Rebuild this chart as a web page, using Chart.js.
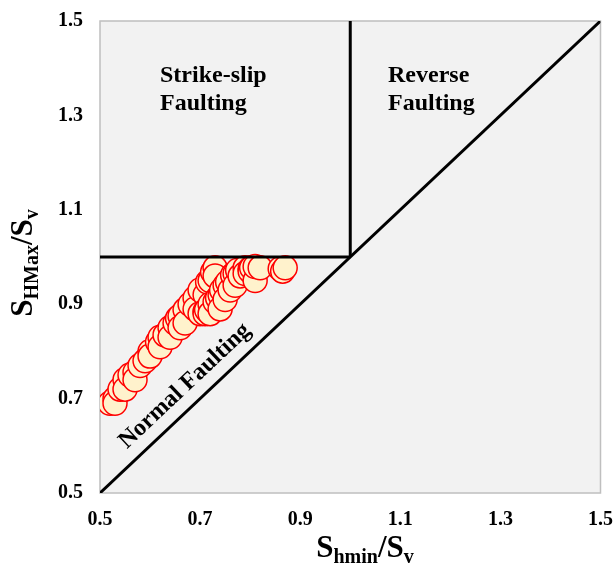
<!DOCTYPE html>
<html>
<head>
<meta charset="utf-8">
<script src="https://cdn.jsdelivr.net/npm/chart.js@4"></script>
<style>
  html, body { margin: 0; padding: 0; background: #fff; overflow: hidden; }
  #wrap { width: 614px; height: 564px; }
  canvas { display: block; }
</style>
</head>
<body>
<div id="wrap"><canvas id="stress-chart"></canvas></div>
<script>
// stress ratio readings
var shminRatio = [0.52, 0.53, 0.53, 0.54, 0.55, 0.55, 0.56, 0.57, 0.57, 0.58, 0.59, 0.60, 0.60, 0.615, 0.62, 0.62, 0.63, 0.64, 0.64, 0.65, 0.655, 0.66, 0.66, 0.67, 0.67, 0.68, 0.69, 0.69, 0.70, 0.71, 0.715, 0.72, 0.725, 0.73, 0.73,
                  0.70, 0.71, 0.71, 0.713, 0.72, 0.72, 0.73, 0.735, 0.74, 0.74, 0.743, 0.75, 0.75, 0.755, 0.76, 0.765, 0.77, 0.77, 0.775, 0.78, 0.79, 0.79, 0.80, 0.80, 0.803, 0.81, 0.81, 0.82, 0.86, 0.865, 0.87]
var shmaxRatio = [0.69, 0.70, 0.69, 0.72, 0.74, 0.72, 0.75, 0.756, 0.74, 0.77, 0.78, 0.80, 0.79, 0.82, 0.83, 0.81, 0.835, 0.85, 0.83, 0.86, 0.87, 0.875, 0.85, 0.888, 0.86, 0.90, 0.913, 0.89, 0.93, 0.92, 0.947, 0.95, 0.968, 0.977, 0.96,
                  0.88, 0.885, 0.88, 0.888, 0.90, 0.88, 0.905, 0.913, 0.92, 0.89, 0.93, 0.94, 0.91, 0.947, 0.93, 0.962, 0.965, 0.94, 0.972, 0.96, 0.977, 0.965, 0.975, 0.97, 0.977, 0.95, 0.98, 0.977, 0.975, 0.97, 0.977]

// regime boundaries
var diagonalX = [0.5, 1.5]
var diagonalY = [0.5, 1.5]
var verticalX = [1.0, 1.0]
var verticalY = [1.0, 1.5]
var horizontalX = [0.5, 1.0]
var horizontalY = [1.0, 1.0]

var tickValues = [0.5, 0.7, 0.9, 1.1, 1.3, 1.5]

function toPoints(xs, ys) {
    return xs.map(function(x, i) { return { x: x, y: ys[i] } })
}

var serif = "'Liberation Serif', 'Times New Roman', serif"

var lineOptions = {
    showLine: true,
    borderColor: '#000',
    borderWidth: 3,
    pointRadius: 0,
    fill: false,
    order: 0
}

// grey plot area + labels
var decorations = {
    id: 'decorations',
    beforeDraw: function(chart) {
        var ctx = chart.ctx, a = chart.chartArea
        ctx.save()
        ctx.fillStyle = '#f2f2f2'
        ctx.fillRect(a.left, a.top, a.right - a.left, a.bottom - a.top)
        ctx.strokeStyle = '#bfbfbf'
        ctx.lineWidth = 1.5
        ctx.strokeRect(a.left, a.top, a.right - a.left, a.bottom - a.top)
        ctx.restore()
    },
    afterDraw: function(chart) {
        var ctx = chart.ctx
        var xs = chart.scales.x, ys = chart.scales.y
        ctx.save()
        ctx.fillStyle = '#000'
        ctx.font = 'bold 24px ' + serif
        ctx.textAlign = 'left'
        ctx.textBaseline = 'alphabetic'
        ctx.fillText('Strike-slip', 160, 82)
        ctx.fillText('Faulting', 160, 110)
        ctx.fillText('Reverse', 388, 82)
        ctx.fillText('Faulting', 388, 110)

        // rotated label along the diagonal
        var p0x = xs.getPixelForValue(0.5), p0y = ys.getPixelForValue(0.5)
        var p1x = xs.getPixelForValue(1.5), p1y = ys.getPixelForValue(1.5)
        var ang = Math.atan2(p1y - p0y, p1x - p0x)
        ctx.translate(185, 386)
        ctx.rotate(ang)
        ctx.textAlign = 'center'
        ctx.textBaseline = 'middle'
        ctx.fillText('Normal Faulting', 0, 0)
        ctx.restore()

        // axis titles with subscripts
        drawSub(ctx, [['S', 31, 0], ['hmin', 20, 6], ['/S', 31, 0], ['v', 20, 6]], 365, 548, 0)
        drawSub(ctx, [['S', 31, 0], ['HMax', 20, 6], ['/S', 31, 0], ['v', 20, 6]], 23, 263, -Math.PI / 2)
    }
}

function drawSub(ctx, parts, cx, cy, rot) {
    ctx.save()
    ctx.translate(cx, cy)
    ctx.rotate(rot)
    ctx.fillStyle = '#000'
    ctx.textBaseline = 'alphabetic'
    ctx.textAlign = 'left'
    var total = 0
    parts.forEach(function(p) {
        ctx.font = 'bold ' + p[1] + 'px ' + serif
        total += ctx.measureText(p[0]).width
    })
    var x = -total / 2
    parts.forEach(function(p) {
        ctx.font = 'bold ' + p[1] + 'px ' + serif
        ctx.fillText(p[0], x, 9 + p[2])
        x += ctx.measureText(p[0]).width
    })
    ctx.restore()
}

var stressChart = document.getElementById('stress-chart').getContext('2d')

new Chart(
    stressChart,
    {
        type: 'scatter',
        data: {
            datasets: [
                {
                    label: 'Diagonal',
                    data: toPoints(diagonalX, diagonalY),
                    ...lineOptions
                },
                {
                    label: 'Vertical',
                    data: toPoints(verticalX, verticalY),
                    ...lineOptions
                },
                {
                    label: 'Horizontal',
                    data: toPoints(horizontalX, horizontalY),
                    ...lineOptions
                },
                {
                    label: 'Stress ratio',
                    data: toPoints(shminRatio, shmaxRatio),
                    pointRadius: 12,
                    pointBackgroundColor: '#fff2cc',
                    pointBorderColor: '#ff0000',
                    pointBorderWidth: 1.5,
                    order: 1
                }
            ]
        },
        options: {
            responsive: true,
            maintainAspectRatio: false,
            animation: false,
            layout: {
                padding: { top: 21, right: 12, left: 0, bottom: 0 }
            },
            plugins: {
                legend: { display: false },
                tooltip: { enabled: false }
            },
            scales: {
                x: {
                    type: 'linear',
                    min: 0.5,
                    max: 1.5,
                    grid: { display: false, drawTicks: false },
                    border: { display: false },
                    afterBuildTicks: function(scale) {
                        scale.ticks = tickValues.map(function(v) { return { value: v } })
                    },
                    afterFit: function(scale) {
                        scale.height = 71
                        scale.paddingLeft = 0
                        scale.paddingRight = 0
                    },
                    ticks: {
                        padding: 15,
                        maxRotation: 0,
                        color: '#000',
                        font: { family: serif, size: 20, weight: 'bold' },
                        callback: function(value) { return value.toFixed(1) }
                    }
                },
                y: {
                    type: 'linear',
                    min: 0.5,
                    max: 1.5,
                    grid: { display: false, drawTicks: false },
                    border: { display: false },
                    afterBuildTicks: function(scale) {
                        scale.ticks = tickValues.map(function(v) { return { value: v } })
                    },
                    afterFit: function(scale) {
                        scale.width = 100
                        scale.paddingTop = 0
                        scale.paddingBottom = 0
                    },
                    ticks: {
                        padding: 17,
                        color: '#000',
                        font: { family: serif, size: 20, weight: 'bold' },
                        callback: function(value) { return value.toFixed(1) }
                    }
                }
            }
        },
        plugins: [decorations]
    }
)
</script>
</body>
</html>
